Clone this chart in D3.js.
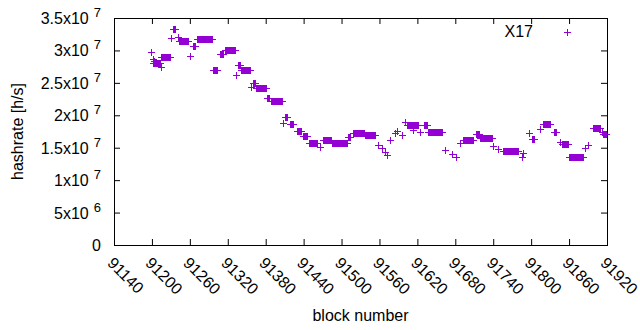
<!DOCTYPE html>
<html><head><meta charset="utf-8">
<script src="https://cdn.jsdelivr.net/npm/d3@7"></script>
<style>body{margin:0;background:#fff} svg text{font-family:"Liberation Sans",Arial,sans-serif;fill:#000}</style>
</head><body><svg id="c" width="640" height="330"></svg>
<script>
// runs of blocks sharing one hashrate value (value in units of 1e7 h/s)
const runStart = [91198,91201,91203,91202,91214,91215,91230,91233,91242,91243,91260,91265,91271,91297,91308,91316,91333,91336,91341,91356,91360,91365,91382,91388,91407,91411,91418,91430,91439,91449,91466,91471,91485,91510,91518,91537,91558,91564,91569,91572,91577,91585,91588,91595,91600,91604,91613,91624,91630,91637,91664,91674,91681,91687,91692,91712,91719,91740,91748,91756,91785,91787,91797,91801,91814,91819,91836,91846,91849,91860,91885,91890,91898,91912,91914];
const runEnd   = [91198,91201,91203,91213,91214,91229,91230,91236,91242,91257,91260,91268,91295,91303,91312,91331,91333,91339,91355,91356,91363,91380,91385,91406,91407,91414,91423,91436,91445,91461,91466,91483,91509,91513,91536,91553,91558,91564,91569,91572,91577,91585,91588,91595,91600,91621,91613,91624,91635,91659,91664,91674,91681,91687,91708,91718,91738,91740,91748,91779,91785,91787,91797,91805,91814,91830,91840,91846,91858,91882,91885,91890,91909,91912,91918];
const runValue = [2.97,2.87,2.83,2.80,2.75,2.90,3.19,3.33,3.21,3.15,2.92,3.07,3.17,2.70,2.94,3.00,2.62,2.78,2.70,2.43,2.50,2.42,2.26,2.22,1.88,1.97,1.86,1.76,1.68,1.58,1.51,1.62,1.57,1.66,1.72,1.69,1.54,1.50,1.43,1.39,1.62,1.72,1.76,1.70,1.90,1.85,1.77,1.75,1.85,1.75,1.46,1.41,1.36,1.57,1.62,1.71,1.65,1.52,1.48,1.45,1.36,1.42,1.73,1.63,1.79,1.86,1.75,1.59,1.55,1.35,1.50,1.54,1.80,1.74,1.71];
const xTickValues = [91140,91200,91260,91320,91380,91440,91500,91560,91620,91680,91740,91800,91860,91920];
const yTickValues = [0,5e6,1e7,1.5e7,2e7,2.5e7,3e7,3.5e7];
const yTickMantissa = ["0","5x10","1x10","1.5x10","2x10","2.5x10","3x10","3.5x10"];
const yTickExponent = ["","6","7","7","7","7","7","7"];
const seriesName = "X17";
const xTitle = "block number";
const yTitle = "hashrate [h/s]";

const color = "#9400D3";
const L = 114, R = 607, T = 18, B = 245;
const svg = d3.select("#c");
const x = d3.scaleLinear().domain([91140, 91920]).range([L, R]);
const y = d3.scaleLinear().domain([0, 3.5e7]).range([B, T]);

// expand runs into one point per block
const pts = [];
runStart.forEach((s, i) => {
  for (let b = s; b <= runEnd[i]; b++) pts.push({b: b, v: runValue[i] * 1e7});
});

// axes (inward ticks, mirrored)
const gB = svg.append("g").attr("transform", `translate(0,${B})`)
  .call(d3.axisBottom(x).tickValues(xTickValues).tickSize(-6).tickPadding(0).tickFormat(d => d));
const gT = svg.append("g").attr("transform", `translate(0,${T})`)
  .call(d3.axisTop(x).tickValues(xTickValues).tickSize(-6).tickFormat(""));
const gL = svg.append("g").attr("transform", `translate(${L},0)`)
  .call(d3.axisLeft(y).tickValues(yTickValues).tickSize(-6).tickFormat(""));
const gR = svg.append("g").attr("transform", `translate(${R},0)`)
  .call(d3.axisRight(y).tickValues(yTickValues).tickSize(-6).tickFormat(""));
[gB, gT, gL, gR].forEach(g => { g.select(".domain").remove(); g.selectAll("line").attr("stroke", "#000"); });

// x tick labels rotated
gB.selectAll(".tick text")
  .attr("font-size", 16).attr("fill", "#000")
  .attr("text-anchor", "start").attr("dy", null).attr("y", 0)
  .attr("transform", "translate(-8,19) rotate(45)");

// y tick labels with superscript
gL.selectAll(".tick").each(function(d, i) {
  const t = d3.select(this).append("text")
    .attr("x", -13).attr("y", 5.5).attr("font-size", 16).attr("text-anchor", "end").attr("fill", "#000");
  t.append("tspan").text(yTickMantissa[i]);
  if (yTickExponent[i]) {
    t.append("tspan").attr("dx", 5).attr("dy", -7).attr("font-size", 13).text(yTickExponent[i]);
  }
});

// frame
svg.append("rect").attr("x", L + 0.5).attr("y", T + 0.5).attr("width", R - L).attr("height", B - T)
  .attr("fill", "none").attr("stroke", "#000").attr("stroke-width", 1);

// points
const plus = (px, py) => `M${px-3.5},${py}H${px+3.5}M${px},${py-3.5}V${py+3.5}`;
svg.append("path")
  .attr("d", pts.map(p => plus(Math.round(x(p.b)) + 0.5, Math.round(y(p.v)) + 0.5)).join(""))
  .attr("stroke", color).attr("stroke-width", 1).attr("fill", "none").attr("shape-rendering", "crispEdges");

// legend
svg.append("text").attr("x", 533).attr("y", 37).attr("font-size", 16).attr("text-anchor", "end").text(seriesName);
svg.append("path").attr("d", plus(567.5, 32.5)).attr("stroke", color).attr("stroke-width", 1)
  .attr("shape-rendering", "crispEdges");

// axis titles
svg.append("text").attr("x", (L + R) / 2).attr("y", 321).attr("font-size", 16).attr("text-anchor", "middle").text(xTitle);
svg.append("text").attr("transform", `translate(23,${(T + B) / 2}) rotate(-90)`)
  .attr("font-size", 16).attr("text-anchor", "middle").text(yTitle);
</script></body></html>
